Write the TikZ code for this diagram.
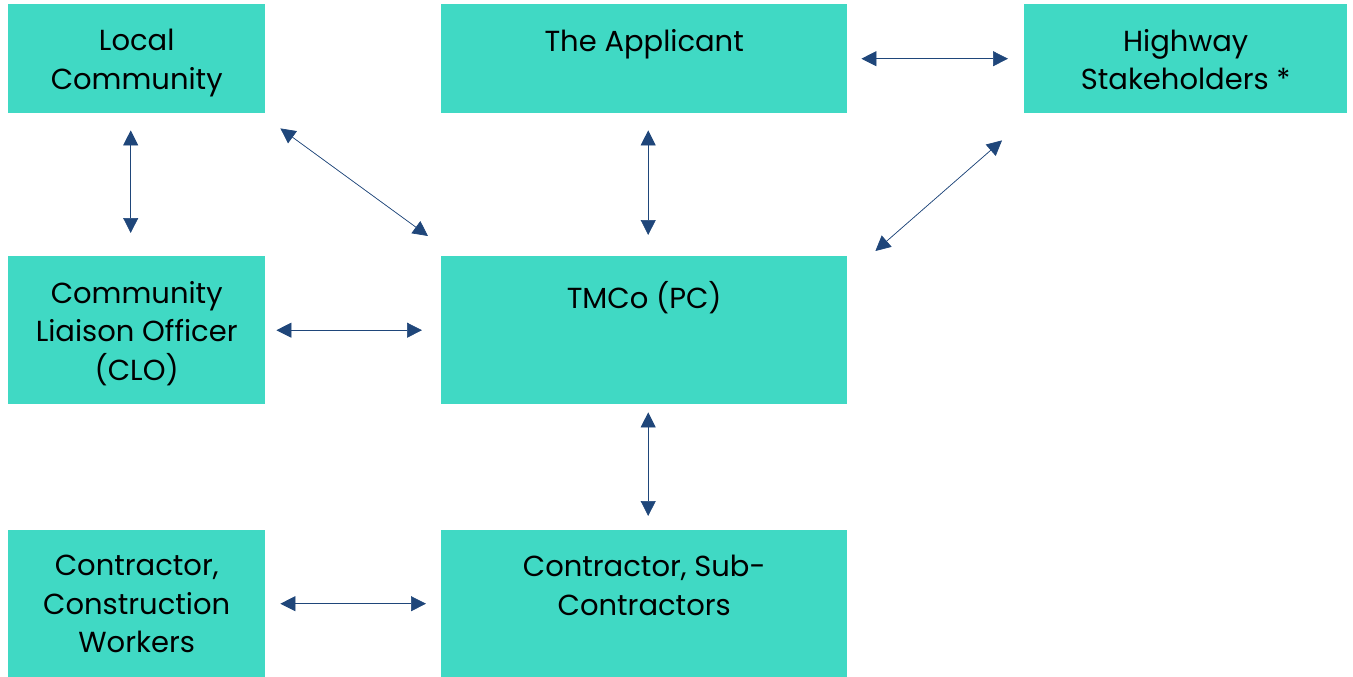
\documentclass[tikz,border=0pt]{standalone}
\usepackage{fontspec}
\setmainfont{Poppins}
\definecolor{boxteal}{RGB}{64,217,196}
\definecolor{linkblue}{RGB}{31,70,122}
\usetikzlibrary{arrows.meta,positioning}

\begin{document}
\begin{tikzpicture}[>={Triangle[length=15pt,width=15pt]}]
\tikzset{
  box/.style={fill=boxteal, draw=none, rectangle, inner sep=0pt, anchor=north west},
  boxtext/.style={anchor=north, align=center, inner sep=0pt, font=\fontsize{29}{38.5}\selectfont, text=black},
  link/.style={<->, draw=linkblue, fill=linkblue, line width=0.7pt},
}
\useasboundingbox (0,0) rectangle (1353pt,-677pt);

% boxes
\node[box, minimum width=257pt, minimum height=109pt] (local) at (8pt,-4pt) {};
\node[box, minimum width=406pt, minimum height=109pt] (applicant) at (441pt,-4pt) {};
\node[box, minimum width=323pt, minimum height=109pt] (highway) at (1024pt,-4pt) {};
\node[box, minimum width=257pt, minimum height=148pt] (clo) at (8pt,-256pt) {};
\node[box, minimum width=406pt, minimum height=148pt] (tmco) at (441pt,-256pt) {};
\node[box, minimum width=257pt, minimum height=147pt] (workers) at (8pt,-530pt) {};
\node[box, minimum width=406pt, minimum height=147pt] (subs) at (441pt,-530pt) {};

% labels
\node[boxtext] (localtxt) at ([yshift=-25pt]local.north) {Local\\Community};
\node[boxtext] (applicanttxt) at ([yshift=-25pt]applicant.north) {The Applicant};
\node[boxtext] (highwaytxt) at ([yshift=-25pt]highway.north) {Highway\\Stakeholders *};
\node[boxtext] (clotxt) at ([yshift=-25pt]clo.north) {Community\\Liaison Officer\\(CLO)};
\node[boxtext] (tmcotxt) at ([yshift=-25pt]tmco.north) {TMCo (PC)};
\node[boxtext] (workerstxt) at ([yshift=-25pt]workers.north) {Contractor,\\Construction\\Workers};
\node[boxtext] (substxt) at ([yshift=-25pt]subs.north) {Contractor, Sub-\\Contractors};

% links
\draw[link, shorten <=17pt, shorten >=23pt] ([xshift=-6pt]local.south) -- ([xshift=-6pt]clo.north);
\draw[link] ([xshift=15pt,yshift=-15pt]local.south east) -- ([xshift=-13pt,yshift=20pt]tmco.north west);
\draw[link, shorten <=17pt, shorten >=21pt] ([xshift=4pt]applicant.south) -- ([xshift=4pt]tmco.north);
\draw[link, shorten <=14pt, shorten >=16pt] (applicant.east) -- (highway.west);
\draw[link] ([xshift=-22pt,yshift=-27pt]highway.south west) -- ([xshift=28pt,yshift=5pt]tmco.north east);
\draw[link, shorten <=11pt, shorten >=19pt] (clo.east) -- (tmco.west);
\draw[link, shorten <=8pt, shorten >=14pt] ([xshift=4pt]tmco.south) -- ([xshift=4pt]subs.north);
\draw[link, shorten <=15pt, shorten >=15pt] (workers.east) -- (subs.west);
\end{tikzpicture}
\end{document}
